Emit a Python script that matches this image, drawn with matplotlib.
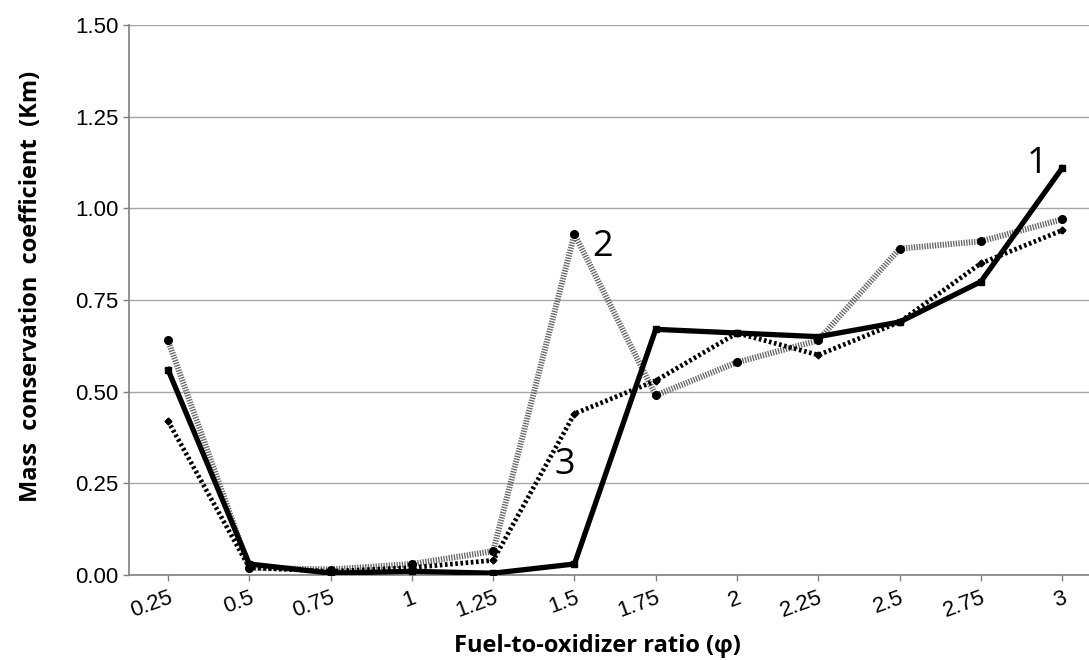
import matplotlib
matplotlib.use("Agg")
import matplotlib.pyplot as plt

categories = ["0.25", "0.5", "0.75", "1", "1.25", "1.5", "1.75", "2", "2.25", "2.5", "2.75", "3"]
series1 = [0.56, 0.03, 0.005, 0.01, 0.005, 0.03, 0.67, 0.66, 0.65, 0.69, 0.80, 1.11]
series2 = [0.64, 0.02, 0.015, 0.03, 0.065, 0.93, 0.49, 0.58, 0.64, 0.89, 0.91, 0.97]
series3 = [0.42, 0.02, 0.01, 0.02, 0.04, 0.44, 0.53, 0.66, 0.60, 0.69, 0.85, 0.94]
y_ticks = [0.0, 0.25, 0.5, 0.75, 1.0, 1.25, 1.5]
y_tick_labels = ["0.00", "0.25", "0.50", "0.75", "1.00", "1.25", "1.50"]

fig = plt.figure(figsize=(10.89, 6.60), dpi=100)
ax = fig.add_axes([129/1089, 1-575/660, 1-129/1089, (575-25)/660])

x = list(range(len(categories)))

ax.plot(x, series2, color="#666666", lw=4.3, dashes=(0.22, 0.22),
        marker="o", ms=5.5, mfc="black", mec="black", zorder=3)
ax.plot(x, series3, color="black", lw=3.4, dashes=(0.55, 0.55),
        marker="D", ms=3.5, mfc="black", mec="black", zorder=4)
ax.plot(x, series1, color="black", lw=3.8, solid_joinstyle="miter",
        marker="s", ms=5, mfc="black", mec="black", zorder=5)

ax.set_xlim(-0.48, 11.33)
ax.set_ylim(0, 1.5)
ax.set_yticks(y_ticks)
ax.set_yticklabels(y_tick_labels, fontsize=16, family="Liberation Sans")
ax.set_xticks(x)
ax.set_xticklabels(categories, fontsize=16, family="Liberation Sans",
                   rotation=20, ha="right", rotation_mode="anchor")

ax.grid(axis="y", color="#a6a6a6", lw=1.0)
ax.set_axisbelow(True)
for s in ["top", "right"]:
    ax.spines[s].set_visible(False)
for s in ["left", "bottom"]:
    ax.spines[s].set_color("#808080")
    ax.spines[s].set_linewidth(1.2)
ax.tick_params(axis="both", colors="#808080", labelcolor="black", length=4, width=1)
ax.tick_params(axis="x", pad=5)

ax.set_ylabel("Mass  conservation  coefficient  (Km)", fontsize=17,
              fontweight="bold", family="Open Sans", va="center")
ax.yaxis.set_label_coords(-0.102, 0.524)
ax.set_xlabel("Fuel-to-oxidizer ratio (φ)", fontsize=17,
              fontweight="bold", family="Open Sans", va="center")
ax.xaxis.set_label_coords(0.4875, -0.13)

ax.text(10.69, 1.12, "1", fontsize=26, family="Open Sans", ha="center", va="center")
ax.text(5.34, 0.895, "2", fontsize=26, family="Open Sans", ha="center", va="center")
ax.text(4.88, 0.30, "3", fontsize=26, family="Open Sans", ha="center", va="center")

fig.savefig("out.png", dpi=100)
